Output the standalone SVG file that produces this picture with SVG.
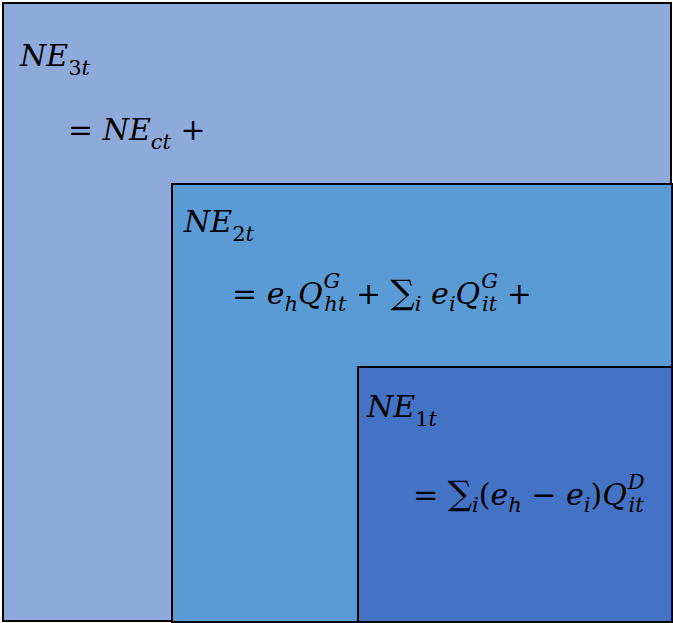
<svg xmlns="http://www.w3.org/2000/svg" width="673" height="623" viewBox="0 0 673 623">
<style>
.box{stroke:#000;stroke-width:2}
.m{font-family:"DejaVu Serif","Liberation Serif",serif;font-style:italic;font-size:30px;fill:#000}
.u{font-style:normal}
.sub{font-size:21px}
.sum{font-size:34px}
</style>
<rect width="673" height="623" fill="#fff"/>
<g id="ne3">
<rect class="box" x="3" y="3" width="668" height="618" fill="#8EAADB"/>
<text class="m" x="20" y="66">NE<tspan class="sub u" dy="9">3</tspan><tspan class="sub">t</tspan></text>
<text class="m" x="68" y="140"><tspan class="u">=</tspan> NE<tspan class="sub" dy="9">ct</tspan> <tspan class="u" dy="-9">+</tspan></text>
</g>
<g id="ne2">
<rect class="box" x="172" y="184" width="500" height="438" fill="#5B9BD5"/>
<text class="m" x="184" y="232">NE<tspan class="sub u" dy="9">2</tspan><tspan class="sub">t</tspan></text>
<text class="m" x="232" y="304"><tspan class="u">=</tspan> e<tspan class="sub" dy="7">h</tspan><tspan dy="-7">Q</tspan><tspan class="sub" dx="1" dy="-16">G</tspan><tspan class="sub" dx="-16" dy="23">ht</tspan> <tspan class="u" dy="-7">+</tspan> <tspan class="u sum">∑</tspan><tspan class="sub" dy="7">i</tspan> <tspan dy="-7">e</tspan><tspan class="sub" dy="7">i</tspan><tspan dy="-7">Q</tspan><tspan class="sub" dx="1" dy="-16">G</tspan><tspan class="sub" dx="-16" dy="23">it</tspan> <tspan class="u" dy="-7">+</tspan></text>
</g>
<g id="ne1">
<rect class="box" x="358" y="367" width="314" height="255" fill="#4472C4"/>
<text class="m" x="367" y="417">NE<tspan class="sub u" dy="9">1</tspan><tspan class="sub">t</tspan></text>
<text class="m" x="413" y="505"><tspan class="u">=</tspan> <tspan class="u sum">∑</tspan><tspan class="sub" dy="7">i</tspan><tspan class="u" dy="-7">(</tspan>e<tspan class="sub" dy="7">h</tspan> <tspan class="u" dy="-7">−</tspan> e<tspan class="sub" dy="7">i</tspan><tspan class="u" dy="-7">)</tspan>Q<tspan class="sub" dx="1" dy="-16">D</tspan><tspan class="sub" dx="-16" dy="23">it</tspan></text>
</g>
<g id="connectors"></g>
</svg>
